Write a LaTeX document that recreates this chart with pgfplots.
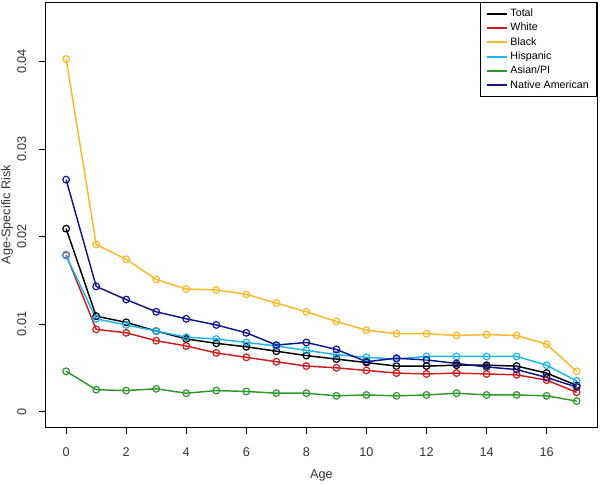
\documentclass[border=0pt]{standalone}
\usepackage{pgfplots}
\pgfplotsset{compat=1.18}
\usepackage{fontspec}
\setmainfont{Liberation Sans}
\definecolor{cTotal}{RGB}{0,0,0}
\definecolor{cWhite}{RGB}{208,28,28}
\definecolor{cBlack}{RGB}{251,184,41}
\definecolor{cHisp}{RGB}{28,181,240}
\definecolor{cAsian}{RGB}{46,154,46}
\definecolor{cNative}{RGB}{20,20,140}
\begin{document}
\begin{tikzpicture}
\useasboundingbox (-34.3pt,-41.8pt) rectangle (415.7pt,320.5pt);
\begin{axis}[
  at={(0,0)}, anchor=south west,
  scale only axis, width=413.5pt, height=319pt,
  xmin=-0.68, xmax=17.68, ymin=-0.0018, ymax=0.0468,
  xtick={0,2,...,16}, ytick={0,0.01,0.02,0.03,0.04},
  yticklabels={0,0.01,0.02,0.03,0.04},
  scaled y ticks=false,
  tick align=outside, major tick length=5pt,
  xtick pos=bottom, ytick pos=left,
  tick style={black, line width=0.6pt},
  axis line style={black, line width=0.6pt},
  /pgf/number format/assume math mode=true,
  ticklabel style={font=\fontsize{9.5}{11}\selectfont, text=black!80},
  yticklabel style={rotate=90, anchor=south},
  yticklabel shift=6pt,
  xticklabel shift=7pt,
  label style={font=\fontsize{9.5}{11}\selectfont, text=black!80},
  xlabel={Age}, ylabel={Age-Specific Risk},
  xlabel style={at={(axis description cs:0.5,0)}, anchor=center, yshift=-36pt},
  ylabel style={at={([xshift=-29pt]axis description cs:0,0.5)}, anchor=center},
  legend style={at={(rel axis cs:1,1)}, anchor=north east, draw=black, line width=0.5pt,
    font=\fontsize{8}{9}\selectfont, row sep=-0.6pt, inner xsep=4pt, inner ysep=3pt, cells={anchor=west}},
  legend cell align=left,
  legend image code/.code={\draw[#1, line width=1.5pt] (0pt,0pt) -- (15pt,0pt);},
  every axis plot/.append style={line width=1.1pt, mark=o, mark size=2.5pt, mark options={line width=0.9pt}},
]
\addplot[cTotal] coordinates {(0,0.0209)(1,0.0109)(2,0.0102)(3,0.0092)(4,0.0083)(5,0.0078)(6,0.0074)(7,0.0069)(8,0.0064)(9,0.0060)(10,0.0056)(11,0.0052)(12,0.0052)(13,0.0053)(14,0.0053)(15,0.0052)(16,0.0044)(17,0.0030)};
\addlegendentry{Total}
\addplot[cWhite] coordinates {(0,0.0179)(1,0.0094)(2,0.0090)(3,0.0081)(4,0.0075)(5,0.0067)(6,0.0062)(7,0.0057)(8,0.0052)(9,0.0050)(10,0.0047)(11,0.0044)(12,0.0043)(13,0.0044)(14,0.0043)(15,0.0042)(16,0.0036)(17,0.0022)};
\addlegendentry{White}
\addplot[cBlack] coordinates {(0,0.0403)(1,0.0191)(2,0.0174)(3,0.0151)(4,0.0140)(5,0.0139)(6,0.0134)(7,0.0124)(8,0.0114)(9,0.0103)(10,0.0093)(11,0.0089)(12,0.0089)(13,0.0087)(14,0.0088)(15,0.0087)(16,0.0077)(17,0.0046)};
\addlegendentry{Black}
\addplot[cHisp] coordinates {(0,0.0178)(1,0.0106)(2,0.0099)(3,0.0092)(4,0.0085)(5,0.0083)(6,0.0079)(7,0.0075)(8,0.0070)(9,0.0065)(10,0.0062)(11,0.0060)(12,0.0063)(13,0.0063)(14,0.0063)(15,0.0063)(16,0.0053)(17,0.0035)};
\addlegendentry{Hispanic}
\addplot[cAsian] coordinates {(0,0.0046)(1,0.0025)(2,0.0024)(3,0.0026)(4,0.0021)(5,0.0024)(6,0.0023)(7,0.0021)(8,0.0021)(9,0.0018)(10,0.0019)(11,0.0018)(12,0.0019)(13,0.0021)(14,0.0019)(15,0.0019)(16,0.0018)(17,0.0012)};
\addlegendentry{Asian/PI}
\addplot[cNative] coordinates {(0,0.0265)(1,0.0143)(2,0.0128)(3,0.0114)(4,0.0106)(5,0.0099)(6,0.0090)(7,0.0076)(8,0.0079)(9,0.0071)(10,0.0057)(11,0.0061)(12,0.0059)(13,0.0055)(14,0.0051)(15,0.0048)(16,0.0039)(17,0.0028)};
\addlegendentry{Native American}
\end{axis}
\end{tikzpicture}
\end{document}
